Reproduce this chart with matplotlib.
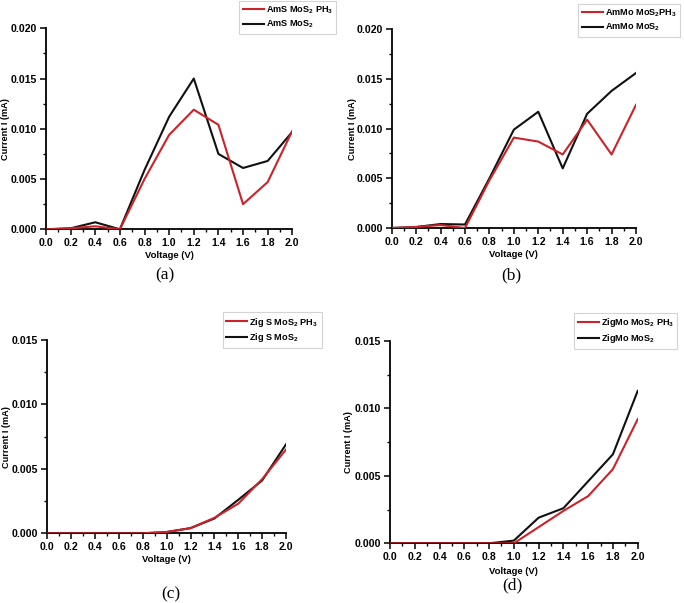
import matplotlib
matplotlib.use("Agg")
import matplotlib.pyplot as plt
from matplotlib.ticker import MultipleLocator, FormatStrFormatter

plt.rcParams['font.family'] = ['Liberation Sans', 'DejaVu Sans']
plt.rcParams['font.weight'] = 'bold'
plt.rcParams['mathtext.fontset'] = 'custom'
plt.rcParams['mathtext.rm'] = 'Liberation Sans:bold'
plt.rcParams['mathtext.it'] = 'Liberation Sans:bold'
plt.rcParams['mathtext.bf'] = 'Liberation Sans:bold'

voltage = [0.0, 0.2, 0.4, 0.6, 0.8, 1.0, 1.2, 1.4, 1.6, 1.8, 2.0]

ams_ph3 = [0.0, 0.0001, 0.0003, 0.0, 0.0050, 0.0094, 0.0119, 0.0104, 0.0025, 0.0047, 0.0098]
ams = [0.0, 0.0001, 0.0007, 0.0, 0.0059, 0.0112, 0.0150, 0.0075, 0.0061, 0.0068, 0.0097]

ammo_ph3 = [0.0, 0.0001, 0.0003, 0.0, 0.0048, 0.0091, 0.0087, 0.0074, 0.0109, 0.0074, 0.0124]
ammo = [0.0, 0.0001, 0.0004, 0.00035, 0.0050, 0.0099, 0.0117, 0.0060, 0.0115, 0.0138, 0.0156]

zigs_ph3 = [0.0, 0.0, 0.0, 0.0, 0.0, 0.0001, 0.0004, 0.0012, 0.0023, 0.0042, 0.0065]
zigs = [0.0, 0.0, 0.0, 0.0, 0.0, 0.0001, 0.0004, 0.00115, 0.0026, 0.0041, 0.0069]

zigmo_ph3 = [0.0, 0.0, 0.0, 0.0, 0.0, 0.0, 0.0012, 0.0024, 0.0035, 0.0055, 0.0092]
zigmo = [0.0, 0.0, 0.0, 0.0, 0.0, 0.0002, 0.0019, 0.0026, 0.0046, 0.0066, 0.0113]

labels_a = [r'AmS MoS$_2$ PH$_3$', r'AmS MoS$_2$']
labels_b = [r'AmMo MoS$_2$PH$_3$', r'AmMo MoS$_2$']
labels_c = [r'Zig S MoS$_2$ PH$_3$', r'Zig S MoS$_2$']
labels_d = [r'ZigMo MoS$_2$ PH$_3$', r'ZigMo MoS$_2$']

W, H = 685, 603
fig = plt.figure(figsize=(W / 100, H / 100), dpi=100)

RED = '#cc2229'
BLK = '#111111'

def px_axes(l, r, t, b):
    return fig.add_axes([l / W, 1 - b / H, (r - l) / W, (b - t) / H])

panels = [
    dict(box=(46, 292.3, 28.3, 229.3), y1=ams_ph3, y2=ams, lab=labels_a, ymax=0.020,
         leg=(239, 1), cap='(a)', capxy=(165, 275), yl=10.5),
    dict(box=(391.7, 636, 29.3, 228), y1=ammo_ph3, y2=ammo, lab=labels_b, ymax=0.020,
         leg=(578, 4), cap='(b)', capxy=(511.7, 275.7), yl=357),
    dict(box=(47.3, 286, 340, 533.3), y1=zigs_ph3, y2=zigs, lab=labels_c, ymax=0.015,
         leg=(222.7, 312), cap='(c)', capxy=(170.7, 594), yl=10.5),
    dict(box=(390, 637.7, 341, 543.3), y1=zigmo_ph3, y2=zigmo, lab=labels_d, ymax=0.015,
         leg=(574, 312.7), cap='(d)', capxy=(512, 585), yl=353),
]
xlabel_y = [256, 254, 560, 571.7]

for p, xly in zip(panels, xlabel_y):
    l, r, t, b = p['box']
    ax = px_axes(l, r, t, b)
    ax.plot(voltage, p['y2'], color=BLK, lw=1.5, label=p['lab'][1], zorder=2)
    ax.plot(voltage, p['y1'], color=RED, lw=1.5, label=p['lab'][0], zorder=3)
    ax.set_xlim(0, 2.0)
    ax.set_ylim(0, p['ymax'])
    ax.xaxis.set_major_locator(MultipleLocator(0.2))
    ax.xaxis.set_minor_locator(MultipleLocator(0.1))
    ax.yaxis.set_major_locator(MultipleLocator(0.005))
    ax.yaxis.set_minor_locator(MultipleLocator(0.0025))
    ax.xaxis.set_major_formatter(FormatStrFormatter('%.1f'))
    ax.yaxis.set_major_formatter(FormatStrFormatter('%.3f'))
    for s in ('top', 'right'):
        ax.spines[s].set_visible(False)
    for s in ('left', 'bottom'):
        ax.spines[s].set_linewidth(1.3)
        ax.spines[s].set_color('black')
    ax.tick_params(which='major', direction='out', length=4, width=1.1, labelsize=7.6, pad=2.5)
    ax.tick_params(which='minor', direction='out', length=2.5, width=1.0)
    ax.set_xlabel('Voltage (V)', fontsize=6.8, fontweight='bold')
    ax.set_ylabel('Current I (mA)', fontsize=6.6, fontweight='bold')
    ax.yaxis.set_label_coords((p['yl'] - l) / (r - l), 0.5)
    ax.xaxis.set_label_coords(0.5, (b - (xly - 4.5)) / (b - t))
    h, lb = ax.get_legend_handles_labels()
    leg = ax.legend(h[::-1], lb[::-1], loc='upper left',
                    bbox_to_anchor=(p['leg'][0] / W, 1 - p['leg'][1] / H),
                    bbox_transform=fig.transFigure, fontsize=6.6, frameon=True,
                    fancybox=False, edgecolor='#c8c8c8', handlelength=2.3,
                    handletextpad=0.2, borderpad=0.4, labelspacing=0.3,
                    borderaxespad=0)
    leg.get_frame().set_linewidth(0.8)
    fig.text(p['capxy'][0] / W, 1 - p['capxy'][1] / H, p['cap'],
             family='Liberation Serif', fontweight='normal', fontsize=12.5,
             ha='center', va='center')

fig.savefig('out.png', dpi=100)
